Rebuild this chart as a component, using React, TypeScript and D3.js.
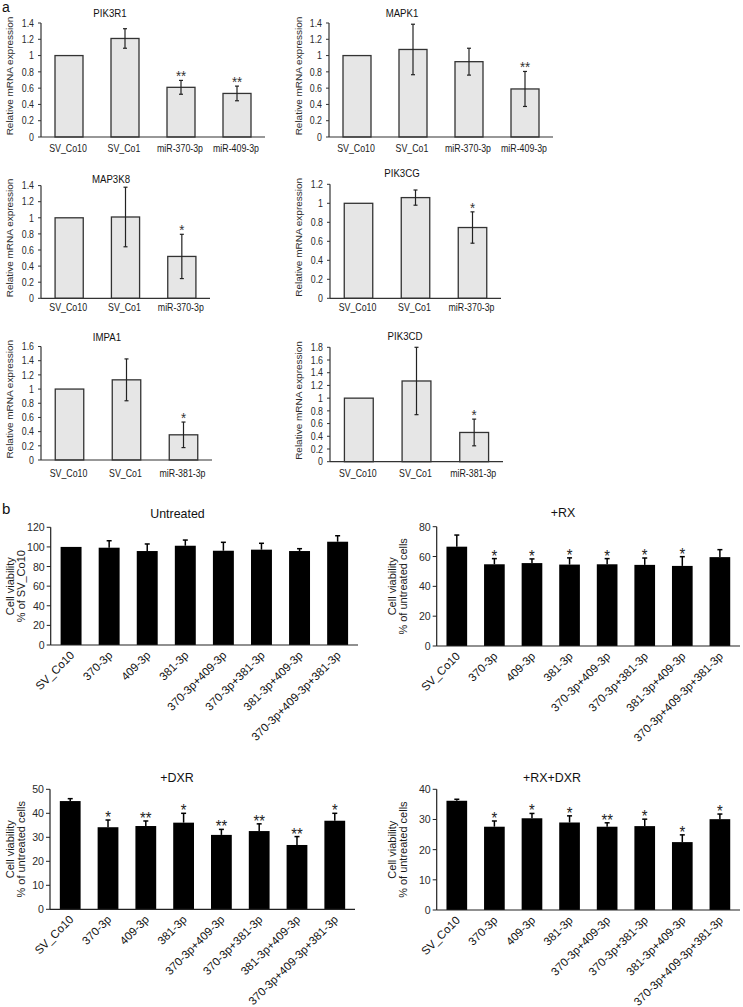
import React from "react";
import * as d3 from "d3";

const FONT = "'Liberation Sans', Arial, Helvetica, sans-serif";

// ---------- Panel a data ----------
const catsA4 = ["SV_Co10", "SV_Co1", "miR-370-3p", "miR-409-3p"];
const catsA370 = ["SV_Co10", "SV_Co1", "miR-370-3p"];
const catsA381 = ["SV_Co10", "SV_Co1", "miR-381-3p"];

const pik3r1Mean = [1, 1.21, 0.61, 0.535];
const pik3r1Sd = [0, 0.12, 0.085, 0.09];
const pik3r1Stars = ["", "", "**", "**"];

const mapk1Mean = [1, 1.075, 0.925, 0.59];
const mapk1Sd = [0, 0.31, 0.165, 0.215];
const mapk1Stars = ["", "", "", "**"];

const map3k8Mean = [1, 1.01, 0.52];
const map3k8Sd = [0, 0.37, 0.275];
const map3k8Stars = ["", "", "*"];

const pik3cgMean = [1, 1.06, 0.745];
const pik3cgSd = [0, 0.08, 0.165];
const pik3cgStars = ["", "", "*"];

const impa1Mean = [1, 1.13, 0.355];
const impa1Sd = [0, 0.295, 0.18];
const impa1Stars = ["", "", "*"];

const pik3cdMean = [1, 1.27, 0.46];
const pik3cdSd = [0, 0.53, 0.21];
const pik3cdStars = ["", "", "*"];

// ---------- Panel b data ----------
const catsB = [
  "SV_Co10",
  "370-3p",
  "409-3p",
  "381-3p",
  "370-3p+409-3p",
  "370-3p+381-3p",
  "381-3p+409-3p",
  "370-3p+409-3p+381-3p",
];

const untreatedMean = [100, 99.2, 95.8, 101.2, 96.1, 97.2, 95.8, 105.3];
const untreatedSd = [0, 7.1, 7.2, 5.8, 8.6, 6.5, 2.4, 6.1];
const untreatedStars = ["", "", "", "", "", "", "", ""];

const rxMean = [66.6, 54.8, 55.6, 54.6, 54.8, 54.4, 53.7, 59.6];
const rxSd = [7.8, 3.8, 2.8, 4.5, 3.8, 4.6, 6.2, 5.0];
const rxStars = ["", "*", "*", "*", "*", "*", "*", ""];

const dxrMean = [45.1, 34.2, 34.7, 36.1, 31.0, 32.6, 26.8, 36.9];
const dxrSd = [1.0, 3.0, 2.1, 3.9, 2.3, 3.0, 3.5, 3.1];
const dxrStars = ["", "*", "**", "*", "**", "**", "**", "*"];

const rxdxrMean = [36.2, 27.6, 30.4, 29.0, 27.6, 27.8, 22.5, 30.1];
const rxdxrSd = [0.5, 1.9, 1.6, 2.2, 1.3, 2.3, 2.4, 1.7];
const rxdxrStars = ["", "*", "*", "*", "**", "*", "*", "*"];

// ---------- chart definitions (data + layout) ----------
const chartsA = [
  { title: "PIK3R1", cats: catsA4, mean: pik3r1Mean, sd: pik3r1Sd, stars: pik3r1Stars, yMax: 1.4,
    x0: 41, x1: 265, yTop: 23, yBot: 137, titleX: 110, titleY: 17, catY: 152, labX: 13 },
  { title: "MAPK1", cats: catsA4, mean: mapk1Mean, sd: mapk1Sd, stars: mapk1Stars, yMax: 1.4,
    x0: 329, x1: 553, yTop: 23, yBot: 137, titleX: 402, titleY: 17, catY: 152, labX: 302 },
  { title: "MAP3K8", cats: catsA370, mean: map3k8Mean, sd: map3k8Sd, stars: map3k8Stars, yMax: 1.4,
    x0: 41, x1: 210, yTop: 185.6, yBot: 298.3, titleX: 111, titleY: 183, catY: 311, labX: 13 },
  { title: "PIK3CG", cats: catsA370, mean: pik3cgMean, sd: pik3cgSd, stars: pik3cgStars, yMax: 1.2,
    x0: 330, x1: 501, yTop: 184.3, yBot: 298.3, titleX: 402, titleY: 177, catY: 311, labX: 302 },
  { title: "IMPA1", cats: catsA381, mean: impa1Mean, sd: impa1Sd, stars: impa1Stars, yMax: 1.6,
    x0: 41, x1: 212, yTop: 346.5, yBot: 460, titleX: 107, titleY: 341, catY: 477, labX: 13 },
  { title: "PIK3CD", cats: catsA381, mean: pik3cdMean, sd: pik3cdSd, stars: pik3cdStars, yMax: 1.8,
    x0: 330, x1: 503, yTop: 347.3, yBot: 461.7, titleX: 405, titleY: 340, catY: 477, labX: 302 },
];

const chartsB = [
  { title: "Untreated", label2: "% of SV_Co10", mean: untreatedMean, sd: untreatedSd, stars: untreatedStars,
    yMax: 120, step: 20, x0: 50.7, x1: 358, yTop: 527.3, yBot: 645, titleX: 177.5, titleY: 518, labX: 14 },
  { title: "+RX", label2: "% of untreated cells", mean: rxMean, sd: rxSd, stars: rxStars,
    yMax: 80, step: 20, x0: 436.7, x1: 740, yTop: 526.7, yBot: 646, titleX: 563, titleY: 517, labX: 396 },
  { title: "+DXR", label2: "% of untreated cells", mean: dxrMean, sd: dxrSd, stars: dxrStars,
    yMax: 50, step: 10, x0: 50, x1: 355, yTop: 789.3, yBot: 909.3, titleX: 177, titleY: 782, labX: 14 },
  { title: "+RX+DXR", label2: "% of untreated cells", mean: rxdxrMean, sd: rxdxrSd, stars: rxdxrStars,
    yMax: 40, step: 10, x0: 436.7, x1: 740, yTop: 789.3, yBot: 910, titleX: 552, titleY: 782, labX: 396 },
];

const SX_A = 0.84;
const SX_B = 0.92;

function T(props: any) {
  const { x, y, sx = 1, size, anchor = "middle", fill = "#1a1a1a", rot = 0, children } = props;
  const tr = `translate(${x},${y}) scale(${sx},1)` + (rot ? ` rotate(${rot})` : "");
  return (
    <text transform={tr} fontSize={size} textAnchor={anchor} fill={fill} fontFamily={FONT}>
      {children}
    </text>
  );
}

function fmt(v: number) {
  const r = Math.round(v * 10) / 10;
  return String(r);
}

function ChartA({ c }: { c: any }) {
  const x = d3.scaleBand<string>().domain(c.cats).range([c.x0, c.x1]).paddingInner(0.5).paddingOuter(0.25);
  const y = d3.scaleLinear().domain([0, c.yMax]).range([c.yBot, c.yTop]);
  const ticks = d3.range(0, Math.round(c.yMax / 0.2) + 1).map((i) => i * 0.2);
  const bw = x.bandwidth();
  const midY = (c.yTop + c.yBot) / 2 - 4;
  return (
    <g>
      <T x={c.titleX} y={c.titleY} sx={SX_A} size={11.5} fill="#111">{c.title}</T>
      <T x={c.labX} y={midY} sx={SX_A} size={10} rot={-90} fill="#2a2a2a">Relative mRNA expression</T>
      {ticks.map((t: number, i: number) => (
        <g key={i}>
          <line x1={c.x0 - 3} x2={c.x0} y1={y(t)} y2={y(t)} stroke="#333" strokeWidth={1} />
          <T x={c.x0 - 7} y={y(t) + 3.7} sx={SX_A} size={10.5} anchor="end" fill="#2a2a2a">{fmt(t)}</T>
        </g>
      ))}
      {c.cats.map((cat: string, i: number) => {
        const bx = x(cat)!;
        const cx = bx + bw / 2;
        const m = c.mean[i];
        const s = c.sd[i];
        return (
          <g key={cat}>
            <rect x={bx} y={y(m)} width={bw} height={c.yBot - y(m)} fill="#e6e6e6" stroke="#333" strokeWidth={1.3} />
            {s > 0 && (
              <g stroke="#222" strokeWidth={1.2}>
                <line x1={cx} x2={cx} y1={y(m + s)} y2={y(m - s)} />
                <line x1={cx - 2} x2={cx + 2} y1={y(m + s)} y2={y(m + s)} />
                <line x1={cx - 2} x2={cx + 2} y1={y(m - s)} y2={y(m - s)} />
              </g>
            )}
            {c.stars[i] && (
              <T x={cx} y={y(m + s) + 1} sx={0.88} size={15} fill="#333">{c.stars[i]}</T>
            )}
            <T x={cx - 1} y={c.catY} sx={SX_A} size={10.5} fill="#1a1a1a">{cat}</T>
          </g>
        );
      })}
      <line x1={c.x0} x2={c.x0} y1={c.yTop} y2={c.yBot} stroke="#333" strokeWidth={1.2} />
      <line x1={c.x0} x2={c.x1} y1={c.yBot} y2={c.yBot} stroke="#333" strokeWidth={1.2} />
    </g>
  );
}

function ChartB({ c }: { c: any }) {
  const x = d3.scaleBand<string>().domain(catsB).range([c.x0, c.x1]).paddingInner(0.45).paddingOuter(0.26);
  const y = d3.scaleLinear().domain([0, c.yMax]).range([c.yBot, c.yTop]);
  const ticks = d3.range(0, c.yMax + 0.001, c.step);
  const bw = x.bandwidth();
  const midY = (c.yTop + c.yBot) / 2;
  return (
    <g>
      <T x={c.titleX} y={c.titleY} sx={SX_B} size={13.5} fill="#111">{c.title}</T>
      <T x={c.labX} y={midY} sx={SX_B} size={11} rot={-90} fill="#1a1a1a">Cell viability</T>
      <T x={c.labX + 11} y={midY} sx={SX_B} size={11} rot={-90} fill="#1a1a1a">{c.label2}</T>
      {ticks.map((t: number, i: number) => (
        <g key={i}>
          <line x1={c.x0 - 4} x2={c.x0} y1={y(t)} y2={y(t)} stroke="#222" strokeWidth={1} />
          <T x={c.x0 - 6} y={y(t) + 4} sx={SX_B} size={11.5} anchor="end" fill="#2a2a2a">{String(t)}</T>
        </g>
      ))}
      {catsB.map((cat: string, i: number) => {
        const bx = x(cat)!;
        const cx = bx + bw / 2;
        const m = c.mean[i];
        const s = c.sd[i];
        return (
          <g key={cat}>
            <rect x={bx} y={y(m)} width={bw} height={c.yBot - y(m)} fill="#000" />
            {s > 0 && (
              <g stroke="#000" strokeWidth={1.5}>
                <line x1={cx} x2={cx} y1={y(m)} y2={y(m + s)} />
                <line x1={cx - 2.5} x2={cx + 2.5} y1={y(m + s)} y2={y(m + s)} />
              </g>
            )}
            {c.stars[i] && (
              <T x={cx} y={y(m + s) + 3} sx={SX_B} size={16} fill="#222">{c.stars[i]}</T>
            )}
            <text
              transform={`translate(${cx + 4},${c.yBot + 11}) rotate(-45)`}
              fontSize={11.5}
              textAnchor="end"
              fill="#111"
              fontFamily={FONT}
            >
              {cat}
            </text>
          </g>
        );
      })}
      <line x1={c.x0} x2={c.x0} y1={c.yTop} y2={c.yBot} stroke="#222" strokeWidth={1.2} />
      <line x1={c.x0} x2={c.x1} y1={c.yBot} y2={c.yBot} stroke="#222" strokeWidth={1.2} />
    </g>
  );
}

export default function App() {
  return (
    <svg
      width={743}
      height={1007}
      viewBox="0 0 743 1007"
      style={{ position: "absolute", left: 0, top: 0, background: "#fff" }}
    >
      <rect x={0} y={0} width={743} height={1007} fill="#fff" />
      <T x={2} y={12} size={14} anchor="start" fill="#111">a</T>
      <T x={2} y={514} size={15} anchor="start" fill="#111">b</T>
      {chartsA.map((c) => (
        <ChartA key={c.title} c={c} />
      ))}
      {chartsB.map((c) => (
        <ChartB key={c.title} c={c} />
      ))}
    </svg>
  );
}
